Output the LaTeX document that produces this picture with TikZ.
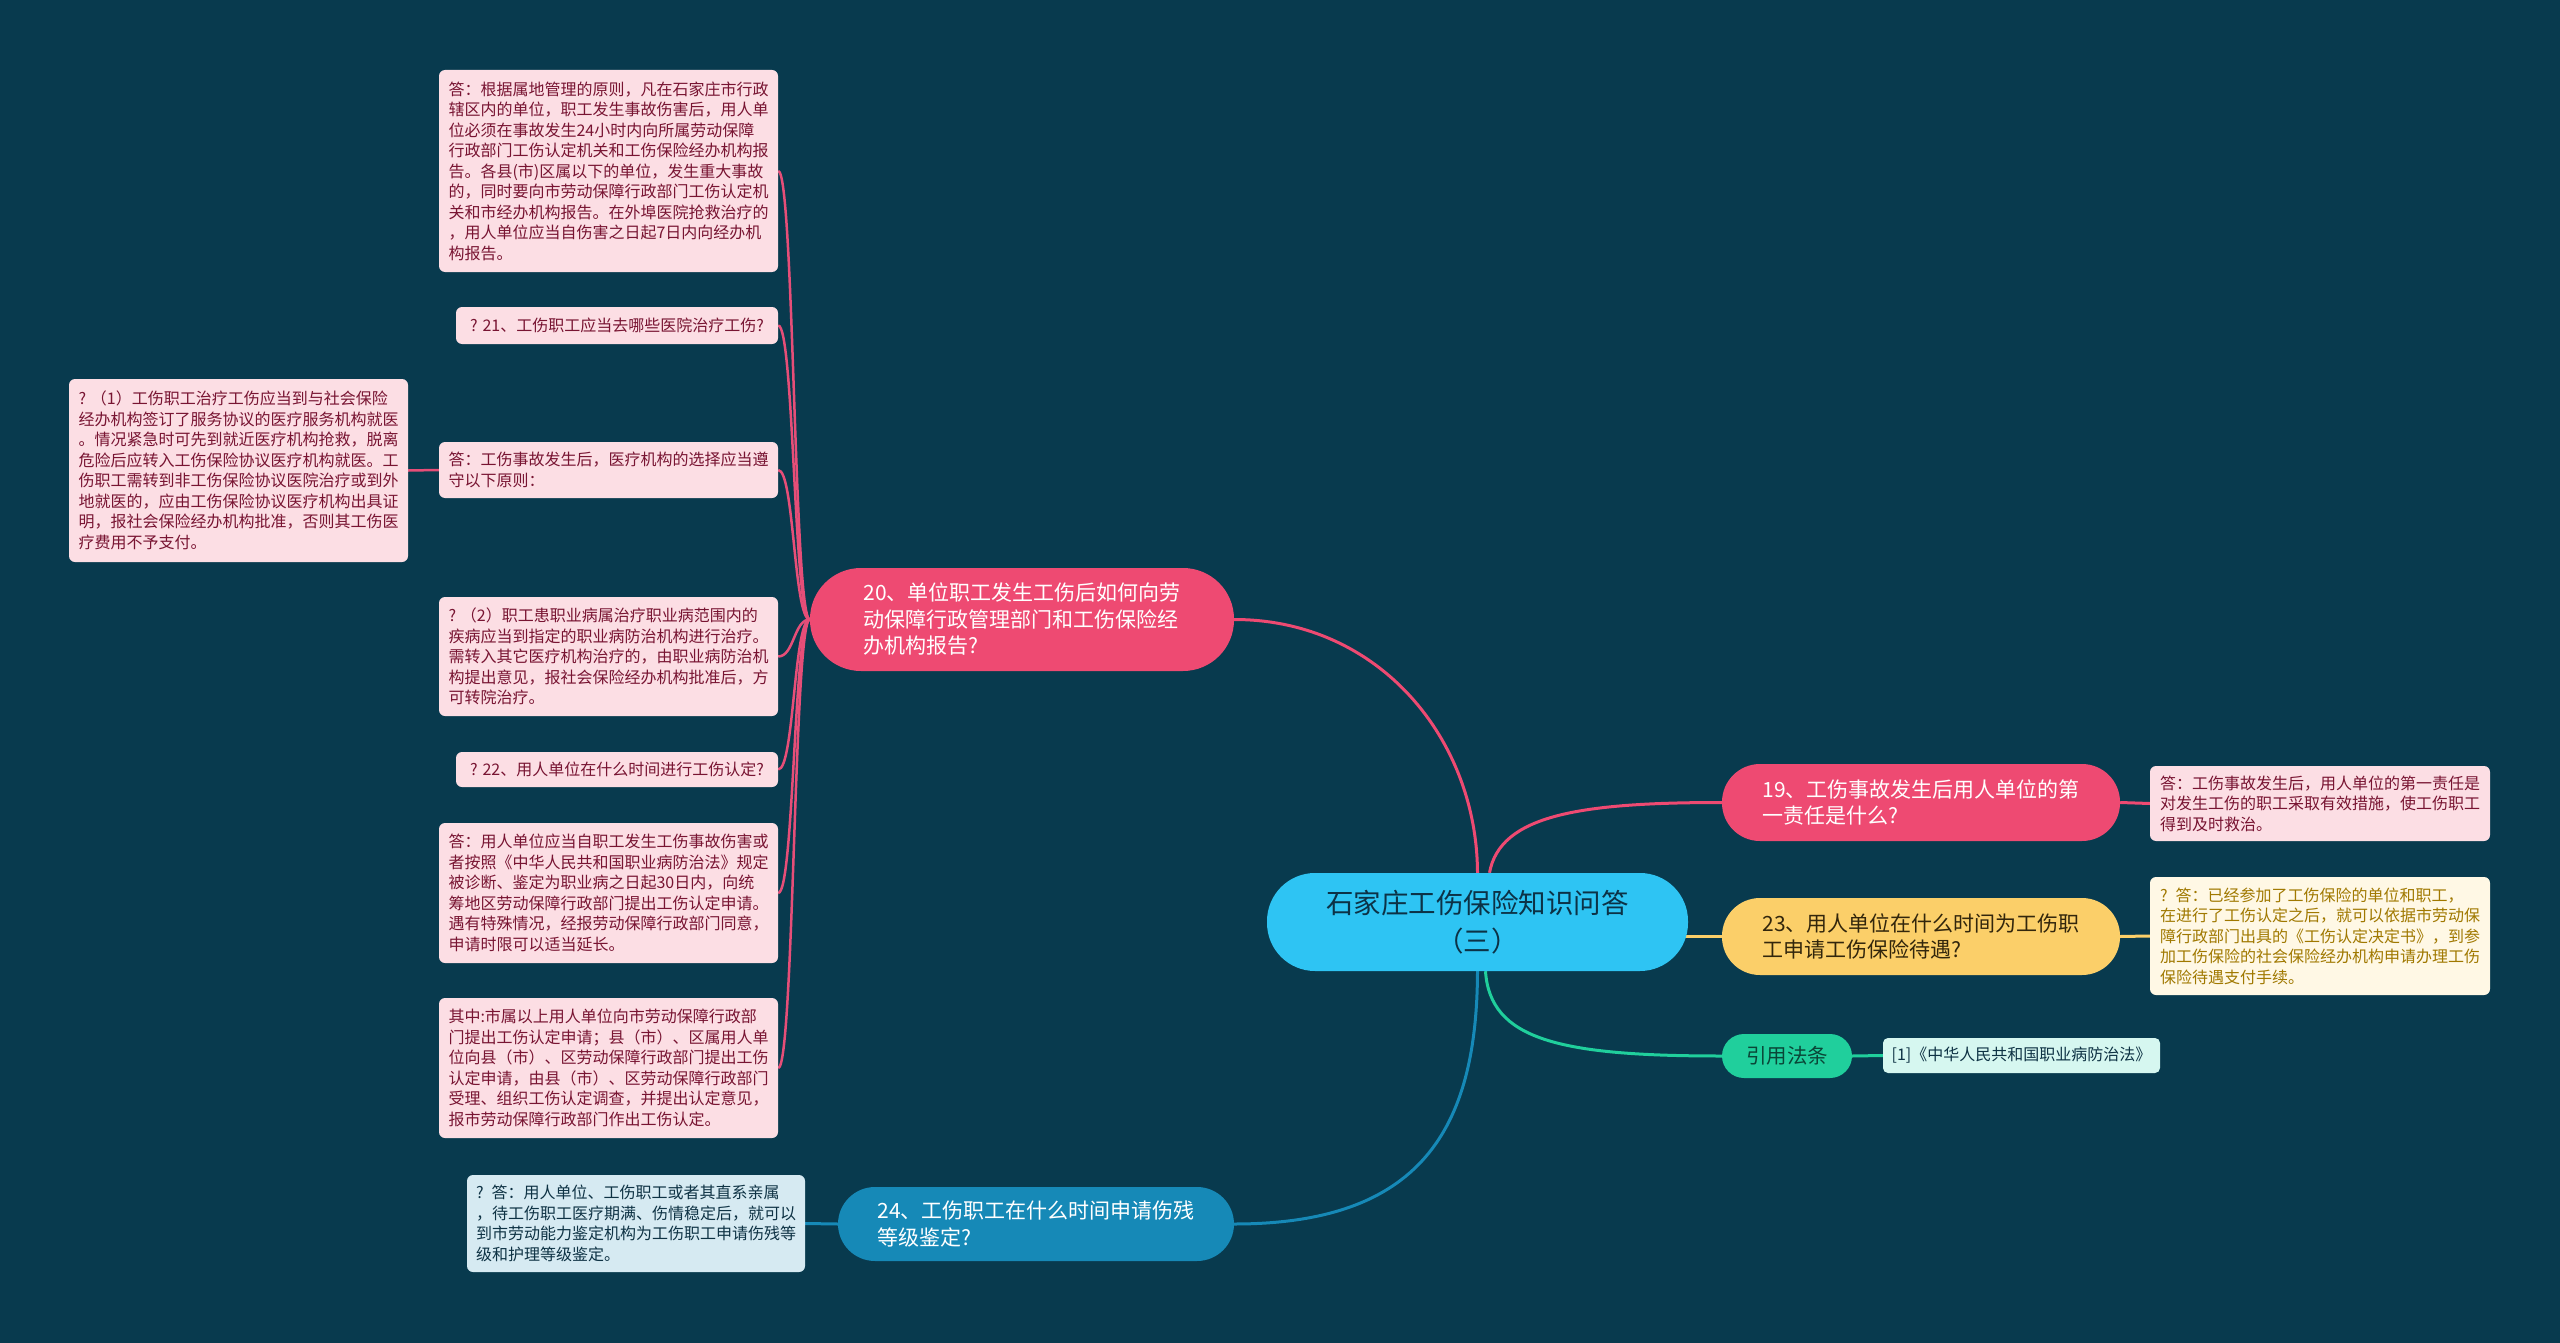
\documentclass[tikz,border=0pt]{standalone}
\usepackage{fontspec}
\newfontfamily\cjk{Noto Sans CJK SC}
\definecolor{bg}{RGB}{8,58,78}
\definecolor{pinkn}{RGB}{238,74,114}
\definecolor{pinkl}{RGB}{230,78,120}
\definecolor{pinkbox}{RGB}{252,222,228}
\definecolor{pinktxt}{RGB}{120,20,50}
\definecolor{cent}{RGB}{46,196,243}
\definecolor{centtxt}{RGB}{12,50,70}
\definecolor{yel}{RGB}{251,207,105}
\definecolor{yeltxtn}{RGB}{50,38,12}
\definecolor{yelbox}{RGB}{255,248,229}
\definecolor{yeltxt}{RGB}{160,120,0}
\definecolor{grn}{RGB}{32,207,156}
\definecolor{grntxt}{RGB}{10,70,55}
\definecolor{grnbox}{RGB}{214,247,240}
\definecolor{blu}{RGB}{22,137,183}
\definecolor{blubox}{RGB}{214,234,242}
\definecolor{darktxt}{RGB}{14,50,68}
\pgfdeclarelayer{bottom}
\pgfdeclarelayer{background}
\pgfsetlayers{bottom,background,main}
\begin{document}
\begin{tikzpicture}[x=1pt,y=-1pt,
  box/.style={inner sep=0pt, align=left, rounded corners=6pt, font=\cjk\fontsize{16}{20.5}\selectfont},
  pbox/.style={box, fill=pinkbox, text=pinktxt},
  pill/.style={inner sep=0pt, align=left, rounded corners=#1, font=\cjk\fontsize{21}{26.5}\selectfont},
  branch/.style={line width=3pt},
  twig/.style={line width=2.5pt, pinkl}
]
\begin{pgfonlayer}{bottom}
\fill[bg] (0,0) rectangle (2560,1343);
\end{pgfonlayer}
\useasboundingbox (0,0) rectangle (2560,1343);

% central
\node[pill=48pt, fill=cent, text=centtxt, align=center, minimum width=421pt, minimum height=98pt,
  font=\cjk\fontsize{27.5}{38}\selectfont] (c) at (1477.5,922) {石家庄工伤保险知识问答\\（三）};

% main topics
\node[pill=51pt, fill=pinkn, text=white, minimum width=424pt, minimum height=103pt] (n20) at (1022,619.5)
  {20、单位职工发生工伤后如何向劳\\动保障行政管理部门和工伤保险经\\办机构报告?};
\node[pill=38pt, fill=pinkn, text=white, minimum width=398pt, minimum height=77pt] (n19) at (1921,802.5)
  {19、工伤事故发生后用人单位的第\\一责任是什么?};
\node[pill=38pt, fill=yel, text=yeltxtn, minimum width=398pt, minimum height=77pt] (n23) at (1921,936.5)
  {23、用人单位在什么时间为工伤职\\工申请工伤保险待遇?};
\node[pill=22pt, fill=grn, text=grntxt, minimum width=130pt, minimum height=44pt,
  font=\cjk\fontsize{20.5}{24}\selectfont] (law) at (1787,1056) {引用法条};
\node[pill=37pt, fill=blu, text=white, minimum width=396pt, minimum height=74pt] (n24) at (1036,1224)
  {24、工伤职工在什么时间申请伤残\\等级鉴定?};

% right answers
\node[pbox, minimum width=340pt, minimum height=75pt] (a19) at (2320,803.5)
  {答：工伤事故发生后，用人单位的第一责任是\\对发生工伤的职工采取有效措施，使工伤职工\\得到及时救治。};
\node[box, fill=yelbox, text=yeltxt, minimum width=340pt, minimum height=118pt] (a23) at (2320,936)
  {?\hspace{0.5em}答：已经参加了工伤保险的单位和职工，\\在进行了工伤认定之后，就可以依据市劳动保\\障行政部门出具的《工伤认定决定书》，到参\\加工伤保险的社会保险经办机构申请办理工伤\\保险待遇支付手续。};
\node[box, fill=grnbox, text=darktxt, rounded corners=5pt, minimum width=277pt, minimum height=35pt] (law1) at (2021.5,1055.5)
  {[1]《中华人民共和国职业病防治法》};
\node[box, fill=blubox, text=darktxt, minimum width=338pt, minimum height=97pt] (a24) at (636,1223.5)
  {?\hspace{0.5em}答：用人单位、工伤职工或者其直系亲属\\，待工伤职工医疗期满、伤情稳定后，就可以\\到市劳动能力鉴定机构为工伤职工申请伤残等\\级和护理等级鉴定。};

% left boxes
\node[pbox, minimum width=339pt, minimum height=202pt] (b1) at (608.5,171)
  {答：根据属地管理的原则，凡在石家庄市行政\\辖区内的单位，职工发生事故伤害后，用人单\\位必须在事故发生24小时内向所属劳动保障\\行政部门工伤认定机关和工伤保险经办机构报\\告。各县(市)区属以下的单位，发生重大事故\\的，同时要向市劳动保障行政部门工伤认定机\\关和市经办机构报告。在外埠医院抢救治疗的\\，用人单位应当自伤害之日起7日内向经办机\\构报告。};
\node[pbox, minimum width=322pt, minimum height=37pt] (b2) at (617,325.5)
  {? 21、工伤职工应当去哪些医院治疗工伤?};
\node[pbox, minimum width=339pt, minimum height=56pt] (b3) at (608.5,470)
  {答：工伤事故发生后，医疗机构的选择应当遵\\守以下原则：};
\node[pbox, minimum width=339pt, minimum height=183pt] (b3c) at (238.5,470.5)
  {?\hspace{0.3em}（1）工伤职工治疗工伤应当到与社会保险\\经办机构签订了服务协议的医疗服务机构就医\\。情况紧急时可先到就近医疗机构抢救，脱离\\危险后应转入工伤保险协议医疗机构就医。工\\伤职工需转到非工伤保险协议医院治疗或到外\\地就医的，应由工伤保险协议医疗机构出具证\\明，报社会保险经办机构批准，否则其工伤医\\疗费用不予支付。};
\node[pbox, minimum width=339pt, minimum height=119pt] (b4) at (608.5,656.5)
  {?\hspace{0.3em}（2）职工患职业病属治疗职业病范围内的\\疾病应当到指定的职业病防治机构进行治疗。\\需转入其它医疗机构治疗的，由职业病防治机\\构提出意见，报社会保险经办机构批准后，方\\可转院治疗。};
\node[pbox, minimum width=322pt, minimum height=35pt] (b5) at (617,769.5)
  {? 22、用人单位在什么时间进行工伤认定?};
\node[pbox, minimum width=339pt, minimum height=140pt] (b6) at (608.5,893)
  {答：用人单位应当自职工发生工伤事故伤害或\\者按照《中华人民共和国职业病防治法》规定\\被诊断、鉴定为职业病之日起30日内，向统\\筹地区劳动保障行政部门提出工伤认定申请。\\遇有特殊情况，经报劳动保障行政部门同意，\\申请时限可以适当延长。};
\node[pbox, minimum width=339pt, minimum height=140pt] (b7) at (608.5,1068)
  {其中:市属以上用人单位向市劳动保障行政部\\门提出工伤认定申请；县（市）、区属用人单\\位向县（市）、区劳动保障行政部门提出工伤\\认定申请，由县（市）、区劳动保障行政部门\\受理、组织工伤认定调查，并提出认定意见，\\报市劳动保障行政部门作出工伤认定。};

\begin{pgfonlayer}{background}
% main branches
\draw[branch, pinkn] (c.north) .. controls (1477,740) and (1380,619.5) .. (n20.east);
\draw[branch, pinkn] ([xshift=12pt]c.north) .. controls (1500,815) and (1580,802.5) .. (n19.west);
\draw[branch, yel] ([xshift=-4pt,yshift=-14.5pt]c.east) -- (n23.west);
\draw[branch, grn] ([xshift=8pt]c.south) .. controls (1490,1040) and (1560,1056) .. (law.west);
\draw[branch, blu] (c.south) .. controls (1477,1130) and (1420,1224) .. (n24.east);
% short links
\draw[branch, pinkn] (n19.east) -- (a19.west);
\draw[branch, yel] (n23.east) -- (a23.west);
\draw[branch, grn] (law.east) -- (law1.west);
\draw[branch, blu] (n24.west) -- (a24.east);
% left twigs
\foreach \b in {b1,b2,b3,b4,b5,b6,b7}
  \draw[twig] (n20.west) .. controls +(-16,0) and +(16,0) .. (\b.east);
\draw[twig] (b3.west) -- (b3c.east);
\end{pgfonlayer}
\end{tikzpicture}
\end{document}
